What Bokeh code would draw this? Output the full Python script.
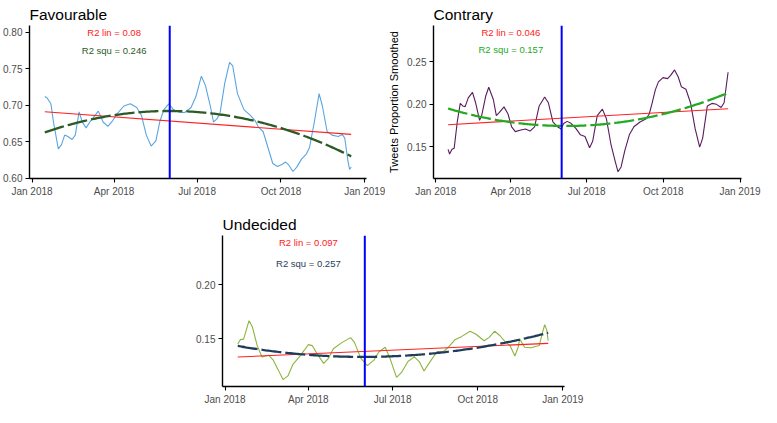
import numpy as np
from datetime import datetime, timedelta
from bokeh.plotting import figure
from bokeh.layouts import column, row
from bokeh.models import (Range1d, FixedTicker, DatetimeTickFormatter, PrintfTickFormatter,
                          Span, Spacer)
from bokeh.core.properties import value
from bokeh.embed import file_html
from bokeh.resources import INLINE

# ---------------- data (days counted from 2018-01-01) ----------------
BASE = "2018-01-01"
VLINE_DATE = "2018-06-01"
tick_dates = ["2018-01-01", "2018-04-01", "2018-07-01", "2018-10-01", "2019-01-01"]

fav_day = [14.0, 16.5, 20.7, 23.5, 28.8, 32.3, 35.8, 39.3, 43.9, 47.4, 51.6, 55.1, 59.3, 63.9,
           72.7, 77.9, 83.2, 88.5, 93.7, 100.7, 107.8, 114.8, 120.0, 125.3, 130.6, 135.8, 140.0,
           144.6, 149.9, 155.1, 162.2, 167.4, 174.4, 179.7, 185.7, 190.2, 195.5, 199.0, 202.5,
           206.0, 211.3, 216.6, 220.1, 225.3, 232.4, 239.4, 244.6, 248.2, 253.4, 258.7, 264.0,
           269.2, 274.5, 278.0, 281.5, 286.1, 290.3, 295.5, 300.8, 304.3, 309.6, 314.8, 318.4,
           323.6, 328.9, 335.9, 340.1, 342.9, 346.4, 348.2, 350.0]
fav_val = [0.712, 0.710, 0.702, 0.677, 0.640, 0.646, 0.659, 0.657, 0.653, 0.659, 0.691, 0.677,
           0.669, 0.678, 0.692, 0.677, 0.671, 0.679, 0.689, 0.699, 0.702, 0.697, 0.686, 0.659,
           0.644, 0.651, 0.677, 0.694, 0.702, 0.694, 0.690, 0.690, 0.697, 0.712, 0.740, 0.727,
           0.699, 0.677, 0.681, 0.688, 0.730, 0.759, 0.754, 0.716, 0.694, 0.686, 0.679, 0.670,
           0.664, 0.642, 0.620, 0.616, 0.619, 0.622, 0.618, 0.609, 0.615, 0.626, 0.633, 0.642,
           0.677, 0.716, 0.699, 0.664, 0.659, 0.657, 0.660, 0.655, 0.624, 0.612, 0.615]
fav_lin_day = [14.0, 350.0]
fav_lin_val = [0.691, 0.660]
fav_quad_day = [14.0, 90.0, 143.0, 195.0, 273.0, 350.0]
fav_quad_val = [0.663, 0.6856, 0.6922, 0.690, 0.668, 0.630]
fav_text = ["R2 lin = 0.08", "R2 squ = 0.246"]
fav_text_y = [0.800, 0.775]

con_day = [14.7, 16.5, 19.4, 22.0, 25.7, 29.3, 32.3, 35.2, 38.9, 44.0, 47.7, 52.5, 55.0, 59.8,
           63.5, 69.0, 72.6, 76.3, 81.8, 86.6, 91.0, 95.4, 102.0, 107.5, 113.0, 118.5, 124.0,
           130.6, 135.0, 140.5, 146.0, 150.4, 153.3, 157.7, 162.5, 168.0, 173.5, 179.0, 184.5,
           188.2, 193.7, 199.9, 204.7, 210.2, 215.0, 218.6, 222.3, 226.7, 232.2, 237.7, 245.0,
           252.4, 256.1, 259.7, 263.4, 267.1, 272.6, 278.1, 281.7, 286.5, 290.9, 294.6, 300.1,
           305.6, 311.1, 316.6, 320.2, 325.8, 331.3, 336.8, 342.3, 345.9, 350.7]
con_val = [0.1469, 0.1413, 0.1469, 0.1481, 0.1792, 0.2011, 0.1981, 0.1973, 0.2076, 0.2140,
           0.2019, 0.1811, 0.1867, 0.2095, 0.2201, 0.2057, 0.1867, 0.1905, 0.1970, 0.1886,
           0.1735, 0.1678, 0.1697, 0.1708, 0.1685, 0.1735, 0.1981, 0.2087, 0.2019, 0.1792,
           0.1735, 0.1708, 0.1773, 0.1799, 0.1773, 0.1716, 0.1640, 0.1621, 0.1488, 0.1564,
           0.1867, 0.1943, 0.1829, 0.1526, 0.1337, 0.1204, 0.1261, 0.1450, 0.1640, 0.1735,
           0.1792, 0.1830, 0.1886, 0.2019, 0.2171, 0.2265, 0.2315, 0.2303, 0.2341, 0.2406,
           0.2322, 0.2208, 0.2178, 0.2019, 0.1716, 0.1496, 0.1602, 0.1981, 0.2011, 0.2000,
           0.1962, 0.2019, 0.2379]
con_lin_day = [14.7, 350.7]
con_lin_val = [0.176, 0.1947]
con_quad_day = [14.7, 91.0, 153.0, 238.0, 282.0, 350.7]
con_quad_val = [0.194, 0.181, 0.1746, 0.179, 0.1917, 0.214]
con_text = ["R2 lin = 0.046", "R2 squ = 0.157"]
con_text_y = [0.2848, 0.2643]

und_day = [13.7, 16.4, 20.0, 25.9, 29.4, 34.7, 39.9, 46.9, 52.1, 57.4, 62.6, 67.9, 73.1, 80.2,
           85.4, 90.0, 94.2, 99.4, 106.5, 111.7, 117.0, 125.7, 135.6, 139.8, 146.7, 153.8, 160.8,
           166.1, 173.0, 178.2, 185.3, 190.5, 197.6, 204.5, 209.8, 215.0, 220.3, 229.1, 236.1,
           241.3, 248.3, 255.4, 264.8, 271.2, 279.9, 285.1, 291.4, 297.4, 302.7, 307.9, 313.2,
           316.7, 318.4, 323.7, 330.6, 339.5, 342.9, 345.4, 347.5, 349.2]
und_val = [0.145, 0.149, 0.1495, 0.1666, 0.161, 0.1435, 0.133, 0.1346, 0.130, 0.121,
           0.112, 0.1154, 0.1258, 0.133, 0.139, 0.1444, 0.1435, 0.136, 0.127, 0.1317,
           0.1406, 0.146, 0.1509, 0.1465, 0.1317, 0.125, 0.130, 0.1376, 0.142, 0.1317,
           0.114, 0.1184, 0.1287, 0.133, 0.1287, 0.120, 0.127, 0.138, 0.138, 0.142,
           0.1489, 0.1518, 0.1568, 0.154, 0.148, 0.1509, 0.1568, 0.1524, 0.147, 0.1435,
           0.1338, 0.142, 0.1495, 0.142, 0.1415, 0.1435, 0.1553, 0.1628, 0.1583, 0.148]
und_lin_day = [13.7, 349.2]
und_lin_val = [0.1329, 0.1456]
und_quad_day = [13.7, 90.0, 160.0, 210.0, 275.0, 349.2]
und_quad_val = [0.1429, 0.1355, 0.1333, 0.1345, 0.142, 0.1555]
und_text = ["R2 lin = 0.097", "R2 squ = 0.257"]
und_text_y = [0.239, 0.2195]

TEXT_DAY = 90.0  # 2018-04-01

# ---------------- helpers ----------------
base = datetime.strptime(BASE, "%Y-%m-%d")
EPOCH = datetime(1970, 1, 1)


def to_dt(days):
    return [base + timedelta(days=float(d)) for d in days]


def ms(dstr):
    return (datetime.strptime(dstr, "%Y-%m-%d") - EPOCH).total_seconds() * 1000.0


FONT = "Liberation Sans"
TICK_COLOR = "#4D4D4D"


def make_panel(title, width, height, bl, br, bt, bb, yr, yticks,
               day, val, line_color, lin_day, lin_val, quad_day, quad_val, quad_color,
               texts, text_y, ylabel=None):
    p = figure(width=width, height=height, x_axis_type="datetime",
               x_range=Range1d(start=base + timedelta(days=-2.8), end=base + timedelta(days=366.8)),
               y_range=Range1d(start=yr[0], end=yr[1]),
               output_backend="svg", toolbar_location=None, title=title,
               min_border_left=bl, min_border_right=br, min_border_top=bt, min_border_bottom=bb)
    p.title.text_font = FONT
    p.title.text_font_size = "15.5px"
    p.title.text_font_style = "normal"
    p.title.text_color = "black"
    p.title.vertical_align = "top"
    p.title.standoff = 2
    p.title.offset = 0
    p.grid.visible = False
    p.outline_line_color = None
    p.background_fill_color = "white"
    p.border_fill_color = "white"

    for ax in (p.xaxis[0], p.yaxis[0]):
        ax.axis_line_color = "black"
        ax.axis_line_width = 1.4
        ax.major_tick_line_color = "black"
        ax.major_tick_line_width = 1.1
        ax.major_tick_out = 4
        ax.major_tick_in = 0
        ax.minor_tick_line_color = None
        ax.major_label_text_font = FONT
        ax.major_label_text_font_size = "10px"
        ax.major_label_text_color = TICK_COLOR
        ax.major_label_standoff = 3

    p.xaxis.ticker = FixedTicker(ticks=[ms(d) for d in tick_dates])
    p.xaxis.formatter = DatetimeTickFormatter(days="%b %Y", months="%b %Y", years="%b %Y")
    p.yaxis.ticker = FixedTicker(ticks=yticks)
    p.yaxis.formatter = PrintfTickFormatter(format="%.2f")
    if ylabel:
        p.yaxis.axis_label = ylabel
        p.yaxis.axis_label_text_font = FONT
        p.yaxis.axis_label_text_font_size = "11px"
        p.yaxis.axis_label_text_font_style = "normal"
        p.yaxis.axis_label_text_color = "black"
        p.yaxis.axis_label_standoff = 4

    # data line
    p.line(to_dt(day), val, line_color=line_color, line_width=1.1)
    # linear fit
    p.line(to_dt(lin_day), lin_val, line_color="#FF2020", line_width=1.1)
    # quadratic fit through the read fit points
    coef = np.polyfit(quad_day, quad_val, 2)
    grid = np.linspace(quad_day[0], quad_day[-1], 200)
    p.line(to_dt(grid), np.polyval(coef, grid), line_color=quad_color, line_width=2.3,
           line_dash="20 4")
    # vertical marker
    p.add_layout(Span(location=datetime.strptime(VLINE_DATE, "%Y-%m-%d"), dimension="height",
                      line_color="#0000FF", line_width=2))
    # R2 annotations
    p.text(x=to_dt([TEXT_DAY, TEXT_DAY]), y=text_y, text=texts,
           text_color=["#FF2020", quad_color], text_font=value(FONT),
           text_font_size="9.5px", text_align="center", text_baseline="middle")
    return p


p1 = make_panel("Favourable", 385, 202, 28, 19, 25, 24, (0.5994, 0.8096),
                [0.60, 0.65, 0.70, 0.75, 0.80], fav_day, fav_val, "#5AA5E0",
                fav_lin_day, fav_lin_val, fav_quad_day, fav_quad_val, "#2D5A27",
                fav_text, fav_text_y)
p2 = make_panel("Contrary", 376, 202, 45, 20, 25, 24, (0.1125, 0.293),
                [0.15, 0.20, 0.25], con_day, con_val, "#5A1A5E",
                con_lin_day, con_lin_val, con_quad_day, con_quad_val, "#22AA22",
                con_text, con_text_y, ylabel="Tweets Proportion Smoothed")
p3 = make_panel("Undecided", 391, 197, 28, 20, 25, 20, (0.1056, 0.2455),
                [0.15, 0.20], und_day, und_val, "#8CB43C",
                und_lin_day, und_lin_val, und_quad_day, und_quad_val, "#1F3D5A",
                und_text, und_text_y)

layout = column(row(p1, p2), Spacer(width=10, height=8),
                row(Spacer(width=193, height=197), p3))

open("out.html", "w").write(file_html(layout, INLINE))
